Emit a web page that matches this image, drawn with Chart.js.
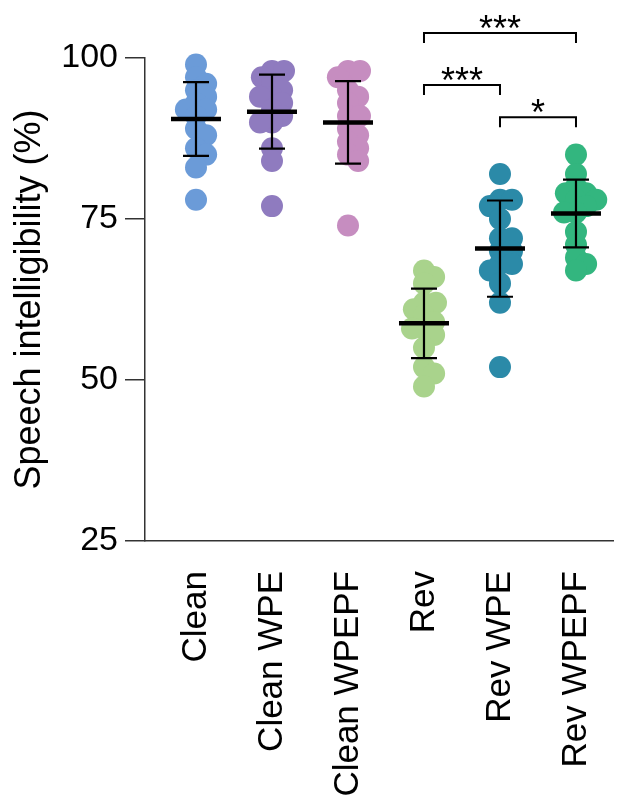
<!DOCTYPE html>
<html>
<head>
<meta charset="utf-8">
<script src="https://cdn.jsdelivr.net/npm/chart.js@4/dist/chart.umd.min.js"></script>
<style>
  html, body { margin: 0; padding: 0; background: #fff; }
  #wrap { width: 624px; height: 799px; }
</style>
</head>
<body>
<div id="wrap"><canvas id="c" width="624" height="799"></canvas></div>
<script>
// data
const categories = ['Clean', 'Clean WPE', 'Clean WPEPF', 'Rev', 'Rev WPE', 'Rev WPEPF'];
const clean      = [99, 97, 96, 95, 94, 93, 92, 92, 91, 89, 88, 86, 85, 83, 78];
const cleanWPE   = [98, 98, 97, 96, 95, 94, 94, 93, 92, 91, 90, 90, 86, 84, 77];
const cleanWPEPF = [98, 98, 97, 95, 94, 93, 91, 91, 89, 88, 87, 86, 85, 84, 74];
const rev        = [67, 66, 65, 62, 62, 61, 60, 59, 58, 58, 57, 55, 52, 51, 49];
const revWPE     = [82, 78, 78, 77, 75, 72, 72, 70, 70, 68, 68, 67, 65, 62, 52];
const revWPEPF   = [85, 82, 80, 79, 79, 78, 78, 77, 76, 76, 73, 71, 69, 68, 67];
const yTicks = [25, 50, 75, 100];
const comparisons = [
    { from: 3, to: 5, label: '***' },
    { from: 3, to: 4, label: '***' },
    { from: 4, to: 5, label: '*' }
];

const groups = [clean, cleanWPE, cleanWPEPF, rev, revWPE, revWPEPF];
const colors = ['#6b9bd8', '#8f7bbf', '#c68dc0', '#a9d38c', '#2b8aa8', '#33b67f'];
const bracketLevels = [103.9, 95.8, 90.8];   // y value of each bracket bar
const FONT = 'Arial, "Liberation Sans", Helvetica, sans-serif';

const mean = a => a.reduce((s, v) => s + v, 0) / a.length;
const sd = a => { const m = mean(a); return Math.sqrt(a.reduce((s, v) => s + (v - m) ** 2, 0) / (a.length - 1)); };

// spread overlapping dots sideways, like a scatter dot plot
function swarm(ys, d) {
    const order = ys.map((y, i) => i).sort((a, b) => ys[a] - ys[b]);
    const placed = [];
    const dx = new Array(ys.length).fill(0);
    order.forEach(i => {
        const y = ys[i];
        const blocks = [];
        placed.forEach(p => {
            const dy = Math.abs(p.y - y);
            if (dy < d) { const w = Math.sqrt(d * d - dy * dy); blocks.push([p.x - w, p.x + w]); }
        });
        const cands = [0];
        blocks.forEach(b => cands.push(b[0], b[1]));
        cands.sort((a, b) => Math.abs(a) - Math.abs(b) || b - a);
        let best = 0;
        for (const c of cands) {
            if (blocks.every(b => c <= b[0] + 1e-6 || c >= b[1] - 1e-6)) { best = c; break; }
        }
        dx[i] = best;
        placed.push({ x: best, y });
    });
    return dx;
}

const swarmPlugin = {
    id: 'swarm',
    afterDatasetsUpdate(chart) {
        chart.data.datasets.forEach((ds, i) => {
            const els = chart.getDatasetMeta(i).data;
            const dx = swarm(els.map(e => e.y), 12);
            els.forEach((e, k) => { e.x += dx[k]; });
        });
    }
};

const statsPlugin = {
    id: 'stats',
    afterDatasetsDraw(chart) {
        const { ctx, scales: { x, y } } = chart;
        ctx.save();
        ctx.strokeStyle = '#000';
        groups.forEach((vals, i) => {
            const m = mean(vals), s = sd(vals);
            const cx = x.getPixelForValue(i);
            const yt = y.getPixelForValue(m + s), yb = y.getPixelForValue(m - s), ym = y.getPixelForValue(m);
            ctx.lineWidth = 2.2;
            ctx.beginPath();
            ctx.moveTo(cx, yt); ctx.lineTo(cx, yb);
            ctx.moveTo(cx - 13, yt); ctx.lineTo(cx + 13, yt);
            ctx.moveTo(cx - 13, yb); ctx.lineTo(cx + 13, yb);
            ctx.stroke();
            ctx.lineWidth = 4.5;
            ctx.beginPath();
            ctx.moveTo(cx - 25, ym); ctx.lineTo(cx + 25, ym);
            ctx.stroke();
        });
        // significance brackets
        ctx.lineWidth = 2;
        ctx.fillStyle = '#000';
        ctx.font = '36px ' + FONT;
        ctx.textAlign = 'center';
        ctx.textBaseline = 'alphabetic';
        comparisons.forEach((c, k) => {
            const x1 = x.getPixelForValue(c.from), x2 = x.getPixelForValue(c.to);
            const yy = y.getPixelForValue(bracketLevels[k]);
            ctx.beginPath();
            ctx.moveTo(x1, yy + 10); ctx.lineTo(x1, yy); ctx.lineTo(x2, yy); ctx.lineTo(x2, yy + 10);
            ctx.stroke();
            ctx.fillText(c.label, (x1 + x2) / 2, yy + 8);
        });
        ctx.restore();
    }
};

new Chart(document.getElementById('c'), {
    type: 'scatter',
    data: {
        datasets: groups.map((vals, i) => ({
            label: categories[i],
            data: vals.map(v => ({ x: i, y: v })),
            backgroundColor: colors[i],
            borderWidth: 0,
            pointRadius: 11,
            pointHoverRadius: 11,
            clip: false
        }))
    },
    options: {
        responsive: false,
        animation: false,
        layout: { padding: { top: 58, right: 2, bottom: 0, left: 0 } },
        plugins: { legend: { display: false }, tooltip: { enabled: false } },
        scales: {
            x: {
                type: 'linear',
                min: -0.671,
                max: 5.487,
                afterBuildTicks: s => { s.ticks = categories.map((c, i) => ({ value: i })); },
                afterFit: s => { s.height = 258; s.paddingLeft = 0; s.paddingRight = 0; },
                ticks: {
                    autoSkip: false,
                    minRotation: 90,
                    maxRotation: 90,
                    padding: 22,
                    color: '#000',
                    font: { family: FONT, size: 35 },
                    callback: v => categories[v]
                },
                grid: { display: false },
                border: { display: true, color: '#333', width: 1.5 }
            },
            y: {
                min: 25,
                max: 100,
                afterBuildTicks: s => { s.ticks = yTicks.map(v => ({ value: v })); },
                afterFit: s => { s.width = 145; },
                ticks: { color: '#000', padding: 7, font: { family: FONT, size: 34 } },
                grid: { drawOnChartArea: false, drawTicks: true, tickLength: 20, color: '#333', lineWidth: 1.5 },
                border: { display: true, color: '#333', width: 1.5 },
                title: {
                    display: true,
                    text: 'Speech intelligibility (%)',
                    color: '#000',
                    font: { family: FONT, size: 36 },
                    padding: { top: 8, bottom: 0 }
                }
            }
        }
    },
    plugins: [swarmPlugin, statsPlugin]
});
</script>
</body>
</html>
